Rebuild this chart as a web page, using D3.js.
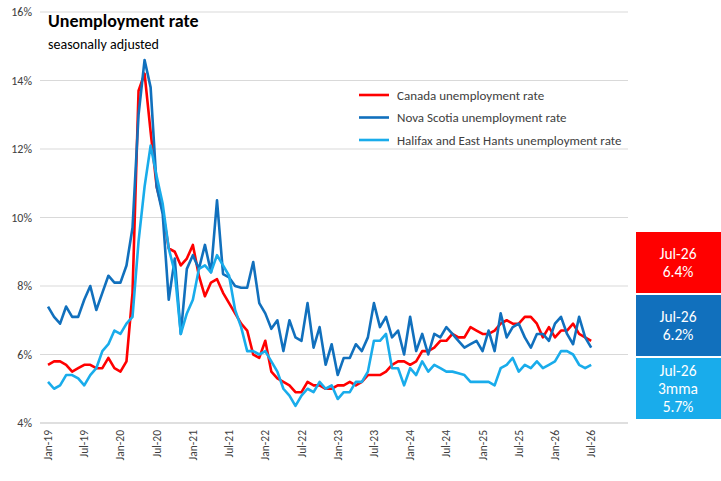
<!DOCTYPE html>
<html><head><meta charset="utf-8">
<script src="https://cdn.jsdelivr.net/npm/d3@7"></script>
<style>body{margin:0;background:#fff;font-family:Calibri,"Liberation Sans",Arial,sans-serif}</style>
</head><body><svg id="c" width="721" height="481"></svg>
<script>
const startYear = 2019;
const tickLabels = ["Jan-19","Jul-19","Jan-20","Jul-20","Jan-21","Jul-21","Jan-22","Jul-22","Jan-23","Jul-23","Jan-24","Jul-24","Jan-25","Jul-25","Jan-26","Jul-26"];
const yTicks = [4,6,8,10,12,14,16];
const canada = [5.7,5.8,5.8,5.7,5.5,5.6,5.7,5.7,5.6,5.6,5.9,5.6,
 5.5,5.8,7.8,13.7,14.2,12.5,10.9,10.2,9.1,9.0,8.6,8.8,
 9.2,8.3,7.7,8.1,8.2,7.8,7.5,7.2,6.9,6.7,6.0,5.9,
 6.4,5.5,5.3,5.2,5.1,4.9,4.9,5.2,5.1,5.1,5.0,5.0,
 5.1,5.1,5.2,5.1,5.2,5.4,5.4,5.4,5.5,5.7,5.8,5.8,
 5.7,5.8,6.1,6.1,6.2,6.4,6.4,6.6,6.5,6.5,6.8,6.7,
 6.6,6.6,6.7,6.9,7.0,6.9,6.9,7.1,7.1,6.9,6.5,6.8,
 6.5,6.7,6.7,6.9,6.6,6.5,6.4];
const novaScotia = [7.4,7.1,6.9,7.4,7.1,7.1,7.6,8.0,7.3,7.8,8.3,8.1,
 8.1,8.6,9.7,13.0,14.6,13.8,10.9,10.1,7.6,8.8,6.6,8.5,
 8.9,8.5,9.2,8.4,10.5,8.35,8.25,8.0,7.95,7.95,8.7,7.5,
 7.2,6.75,7.0,6.1,7.0,6.5,6.4,7.5,6.2,6.8,5.7,6.3,
 5.4,5.9,5.9,6.3,6.1,6.5,7.5,6.8,7.1,6.5,6.7,6.0,
 7.1,6.1,6.6,6.0,6.6,6.5,6.8,6.6,6.4,6.2,6.3,6.4,
 6.1,6.7,6.1,7.2,6.5,6.8,6.9,6.5,6.2,6.6,6.6,6.4,
 6.9,7.1,6.6,6.3,7.1,6.5,6.2];
const halifax = [5.2,5.0,5.1,5.4,5.4,5.3,5.1,5.4,5.6,6.1,6.3,6.7,
 6.6,6.9,7.1,9.3,10.9,12.1,11.2,10.4,9.1,8.4,6.6,7.2,
 7.6,8.5,8.6,8.4,8.9,8.6,8.3,7.3,6.8,6.1,6.1,6.0,
 6.1,5.8,5.5,5.0,4.8,4.5,4.8,5.0,4.9,5.2,5.0,5.1,
 4.7,4.9,4.9,5.2,5.2,5.5,6.4,6.4,6.6,5.6,5.6,5.1,
 5.6,5.4,5.8,5.5,5.7,5.6,5.5,5.5,5.45,5.4,5.2,5.2,
 5.2,5.2,5.1,5.6,5.7,5.9,5.5,5.7,5.6,5.8,5.6,5.7,
 5.8,6.1,6.1,6.0,5.7,5.6,5.7];
const seriesNames = ["Canada unemployment rate","Nova Scotia unemployment rate","Halifax and East Hants unemployment rate"];
const colors = ["#ff0000","#1170bd","#19aceb"];
const boxLabels = [["Jul-26","6.4%"],["Jul-26","6.2%"],["Jul-26","3mma","5.7%"]];

const svg = d3.select("#c");
const x = d3.scaleLinear().domain([-1.33, 96.1]).range([40, 628]);
const y = d3.scaleLinear().domain([4, 16]).range([423, 12]);

svg.append("g").selectAll("line").data(yTicks.slice(1)).join("line")
  .attr("x1",40).attr("x2",628).attr("y1",d=>y(d)).attr("y2",d=>y(d))
  .attr("stroke","#d9d9d9").attr("stroke-width",1);
svg.append("line").attr("x1",40).attr("x2",628).attr("y1",y(4)).attr("y2",y(4)).attr("stroke","#bfbfbf");
svg.append("g").selectAll("text").data(yTicks).join("text")
  .attr("x",32).attr("y",d=>y(d)+4).attr("text-anchor","end")
  .attr("font-size",12).attr("fill","#404040").text(d=>d+"%");
svg.append("g").selectAll("text").data(tickLabels).join("text")
  .attr("transform",(d,i)=>`translate(${x(i*6)+4},430) rotate(-90)`)
  .attr("text-anchor","end").attr("font-size",11.5).attr("fill","#404040").text(d=>d);

const line = d3.line().x((d,i)=>x(i)).y(d=>y(d));
[canada, novaScotia, halifax].forEach((s,k)=>{
  svg.append("path").datum(s).attr("d",line).attr("fill","none")
    .attr("stroke",colors[k]).attr("stroke-width",2.6).attr("stroke-linejoin","round");
});

svg.append("text").attr("x",48).attr("y",27).attr("font-size",18).attr("font-weight","bold").attr("fill","#000").text("Unemployment rate");
svg.append("text").attr("x",48).attr("y",49).attr("font-size",14).attr("fill","#000").text("seasonally adjusted");

seriesNames.forEach((n,k)=>{
  const ly = 95 + k*22.5;
  svg.append("line").attr("x1",359).attr("x2",389).attr("y1",ly).attr("y2",ly).attr("stroke",colors[k]).attr("stroke-width",2.6);
  svg.append("text").attr("x",397).attr("y",ly+4.5).attr("font-size",13).attr("fill","#404040").text(n);
});

const boxY = [232,295,358];
boxLabels.forEach((lbl,k)=>{
  svg.append("rect").attr("x",636).attr("y",boxY[k]).attr("width",85).attr("height",61).attr("fill",colors[k]);
  const n = lbl.length, lh = 18, cy = boxY[k]+30.5;
  lbl.forEach((t,j)=>{
    svg.append("text").attr("x",678).attr("y",cy + (j-(n-1)/2)*lh + 5.5).attr("text-anchor","middle")
      .attr("font-size",15.5).attr("fill","#fff").text(t);
  });
});
</script></body></html>
